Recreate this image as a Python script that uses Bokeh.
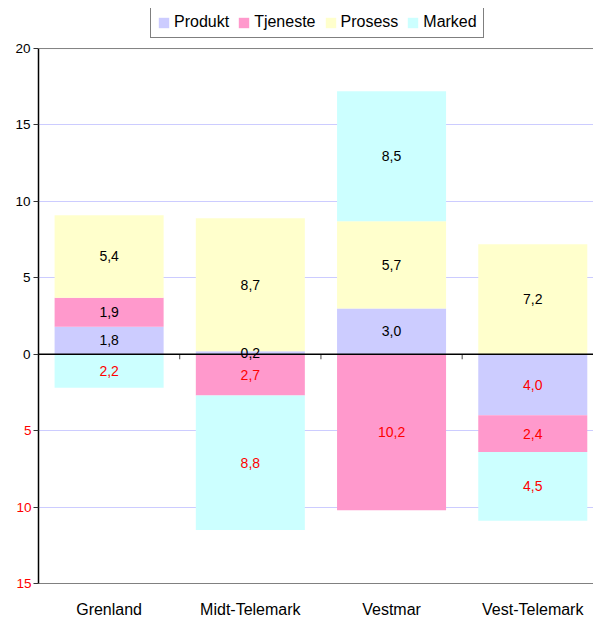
from bokeh.plotting import figure
from bokeh.models import (Span, Legend, LegendItem, FixedTicker, LinearAxis,
                          ColumnDataSource, Range1d)
from bokeh.embed import file_html
from bokeh.resources import INLINE
from bokeh.core.properties import value

# ---- data ----
regions = ["Grenland", "Midt-Telemark", "Vestmar", "Vest-Telemark"]
series = ["Produkt", "Tjeneste", "Prosess", "Marked"]
produkt = [1.8, 0.2, 3.0, -4.0]
tjeneste = [1.9, -2.7, -10.2, -2.4]
prosess = [5.4, 8.7, 5.7, 7.2]
marked = [-2.2, -8.8, 8.5, -4.5]
colors = ["#ccccff", "#ff99cc", "#ffffcc", "#ccffff"]
y_ticks = [-15, -10, -5, 0, 5, 10, 15, 20]

FONT = "Liberation Sans"

# frame spans the legend area too; the value axis is bounded to -15..20
p = figure(frame_width=555, frame_height=575, output_backend="svg", toolbar_location=None,
           x_range=Range1d(-0.5, 3.43), y_range=Range1d(-15, 22.62),
           min_border_left=38, min_border_right=0, min_border_top=8,
           min_border_bottom=36)
p.outline_line_color = None
p.background_fill_color = "white"
p.border_fill_color = "white"

# grid
p.xgrid.grid_line_color = None
p.ygrid.ticker = FixedTicker(ticks=[t for t in y_ticks if t not in (0, y_ticks[0], y_ticks[-1])])
p.ygrid.grid_line_color = "#ccccff"
p.ygrid.grid_line_width = 1

# stacked bars (positive upwards, negative downwards)
pos_base = [0.0] * len(regions)
neg_base = [0.0] * len(regions)
items = []
lx, ly, lt, lc = [], [], [], []
for name, vals, col in zip(series, [produkt, tjeneste, prosess, marked], colors):
    bottoms, tops = [], []
    for i, v in enumerate(vals):
        if v >= 0:
            b = pos_base[i]
            t = b + v
            pos_base[i] = t
        else:
            b = neg_base[i]
            t = b + v
            neg_base[i] = t
        bottoms.append(b)
        tops.append(t)
        lx.append(i)
        ly.append((b + t) / 2)
        lt.append(f"{abs(v):.1f}".replace(".", ","))
        lc.append("#000000" if v >= 0 else "#ff0000")
    src = ColumnDataSource(dict(x=list(range(len(regions))), bottom=bottoms, top=tops))
    r = p.vbar(x="x", bottom="bottom", top="top", width=0.772, source=src,
               fill_color=col, line_color=None)
    items.append(LegendItem(label=name, renderers=[r]))

# top border and zero line
p.add_layout(Span(location=y_ticks[-1], dimension="width", line_color="#808080", line_width=1))
p.add_layout(Span(location=0, dimension="width", line_color="#000000", line_width=1.5))

# category boundary ticks on the zero line
bx = [i + 0.5 for i in range(len(regions))]
p.segment(x0=bx, y0=[0] * len(bx), x1=bx, y1=[-0.33] * len(bx),
          line_color="#444444", line_width=1)

# value labels
lsrc = ColumnDataSource(dict(x=lx, y=ly, t=lt, c=lc))
p.text(x="x", y="y", text="t", text_color="c", source=lsrc,
       text_align="center", text_baseline="middle",
       text_font=value(FONT), text_font_size="14px")

# y axis: line, ticks and black (positive) labels
p.yaxis.ticker = FixedTicker(ticks=y_ticks)
p.yaxis.bounds = (y_ticks[0], y_ticks[-1])
p.yaxis.major_label_overrides = {t: "" for t in y_ticks if t < 0}
p.yaxis.major_label_text_font = FONT
p.yaxis.major_label_text_font_size = "13.5px"
p.yaxis.major_label_text_color = "#000000"
p.yaxis.axis_line_color = "#000000"
p.yaxis.axis_line_width = 1.5
p.yaxis.major_tick_out = 5
p.yaxis.major_tick_in = 0
p.yaxis.major_tick_line_color = "#333333"
p.yaxis.minor_tick_line_color = None
p.yaxis.major_label_standoff = 3

# second left axis: red labels for negative ticks, shown as absolute values
neg_ticks = [t for t in y_ticks if t < 0]
red_axis = LinearAxis(ticker=FixedTicker(ticks=neg_ticks),
                      major_label_overrides={t: str(abs(t)) for t in neg_ticks},
                      axis_line_color=None, major_tick_line_color=None,
                      minor_tick_line_color=None,
                      major_label_text_font=FONT,
                      major_label_text_font_size="13.5px",
                      major_label_text_color="#ff0000",
                      major_label_standoff=-25)
p.add_layout(red_axis, "left")

# x axis (its line is the grey bottom border)
p.xaxis.ticker = FixedTicker(ticks=list(range(len(regions))))
p.xaxis.major_label_overrides = {i: n for i, n in enumerate(regions)}
p.xaxis.axis_line_color = "#808080"
p.xaxis.axis_line_width = 1
p.xaxis.major_tick_line_color = None
p.xaxis.minor_tick_line_color = None
p.xaxis.major_label_text_font = FONT
p.xaxis.major_label_text_font_size = "16px"
p.xaxis.major_label_text_color = "#000000"
p.xaxis.major_label_standoff = 11

# legend at the top of the frame
legend = Legend(items=items, orientation="horizontal", location=(112, 545),
                border_line_color="#000000", border_line_width=1,
                padding=6, spacing=8, label_standoff=4,
                glyph_width=13, glyph_height=13, margin=0,
                label_text_font=FONT, label_text_font_size="16px",
                label_text_color="#000000",
                background_fill_color="white", background_fill_alpha=1)
p.add_layout(legend)

open("out.html", "w").write(file_html(p, INLINE))
